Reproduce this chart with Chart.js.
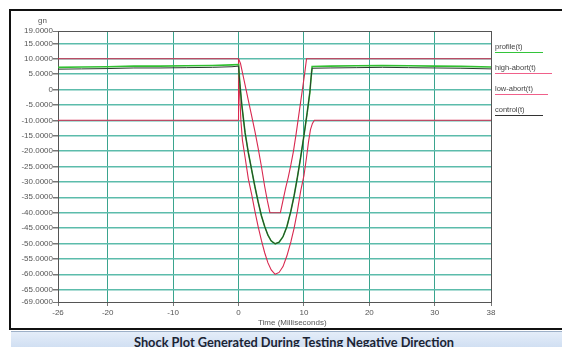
<!DOCTYPE html>
<html>
<head>
<meta charset="utf-8">
<script src="https://cdn.jsdelivr.net/npm/chart.js@4.4.1/dist/chart.umd.min.js"></script>
<style>
    body { margin: 0; width: 562px; height: 347px; overflow: hidden; background: #fff; position: relative; font-family: 'Liberation Sans', Arial, sans-serif; }
    #frame { position: absolute; left: 9px; top: 9px; width: 600px; height: 321px; border: 2px solid #111; box-sizing: border-box; }
    #bar { position: absolute; left: 11px; top: 331px; width: 560px; height: 22px; background: linear-gradient(#e4edf9, #c8d9ef); border-top: 1px solid #9db0c8; }
    #bar span { position: absolute; left: 0; width: 566px; top: 2px; text-align: center; font: bold 12.8px Lato, 'Open Sans', sans-serif; color: #1c2433; }
    #chart { position: absolute; left: 0; top: 0; }
    .txt { position: absolute; font-size: 8px; color: #555; white-space: nowrap; }
    #legend div { position: absolute; left: 495px; font-size: 7.5px; color: #444; white-space: nowrap; }
    #legend i { position: absolute; left: 495px; height: 1px; }
</style>
</head>
<body>
<div id="frame"></div>
<div id="bar"><span>Shock Plot Generated During Testing Negative Direction</span></div>
<canvas id="chart" width="562" height="347"></canvas>
<div class="txt" style="left:38px; top:16px;">gn</div>
<div class="txt" style="left:258px; top:318px;">Time (Milliseconds)</div>
<div id="legend"></div>
<script>
// ---- axis ticks ----
const xTicks = [-27.6, -20, -10, 0, 10, 20, 30, 38.6];
const xTickLabels = ['-26', '-20', '-10', '0', '10', '20', '30', '38'];
const yTicks = [19, 15, 10, 5, 0, -5, -10, -15, -20, -25, -30, -35, -40, -45, -50, -55, -60, -65, -69];

// ---- series (time ms / gn) ----
const profileT = [-27.6, -24, -20, -16, -12, -8, -4, -1, 0, 0.2, 0.5, 1, 1.5, 2, 2.5, 3, 3.5, 4, 4.5, 5,
    5.6, 6.2, 6.8, 7.4, 8, 8.5, 9, 9.5, 10, 10.5, 10.9, 11.1, 11.25, 14, 18, 22, 26, 30, 34, 38.6];
const profileV = [7.2, 7.3, 7.4, 7.6, 7.6, 7.7, 7.8, 8.0, 8.1, 2, -5, -14, -20.5, -26, -31.5, -36.5, -41, -44.5, -47.3, -49.2,
    -50.1, -49.6, -47.8, -44.5, -39.5, -34.5, -28.5, -22, -15, -7.5, -1, 4, 7.5, 7.6, 7.7, 7.8, 7.7, 7.6, 7.5, 7.3];
const controlT = [-27.6, -24, -20, -16, -12, -8, -4, -1, 0, 0.2, 0.5, 1, 1.5, 2, 2.5, 3, 3.5, 4, 4.5, 5,
    5.6, 6.2, 6.8, 7.4, 8, 8.5, 9, 9.5, 10, 10.5, 10.9, 11.1, 11.25, 14, 18, 22, 26, 30, 34, 38.6];
const controlV = [6.6, 6.7, 6.8, 7.0, 7.0, 7.1, 7.2, 7.4, 7.6, 2, -5, -14, -20.5, -26, -31.5, -36.5, -41, -44.5, -47.3, -49.2,
    -50.1, -49.6, -47.8, -44.5, -39.5, -34.5, -28.5, -22, -15, -7.5, -1, 4, 6.9, 7.0, 7.1, 7.2, 7.1, 7.0, 6.9, 6.7];
const highT = [-27.6, 0, 0.3, 1, 1.5, 2, 2.5, 3, 3.5, 4, 4.4, 4.8, 6.4, 6.8, 7.2, 7.6, 8, 8.4, 8.8, 9.2, 9.7, 10.1, 10.4, 38.6];
const highV = [10, 10, 8.5, 1.5, -3.5, -8.5, -13.5, -19, -25, -31.5, -36, -40, -40, -36, -32, -28.5, -24.5, -20, -14.5, -8.5, -1, 5, 10, 10];
const lowT = [-27.6, 0, 0, 0.15, 0.36, 0.6, 1, 1.5, 2, 2.5, 3, 3.5, 4, 4.5, 5, 5.6, 6.2, 6.8, 7.4, 8, 8.5, 9, 9.5, 10,
    10.4, 10.7, 11, 11.3, 11.6, 38.6];
const lowV = [-10, -10, 10, 0, -10, -16.5, -22, -29, -34, -39.5, -44.5, -49, -53, -56.3, -58.6, -60, -59.4, -57.5, -54, -49.5,
    -45, -39.5, -33, -28, -22, -17, -13, -11, -10, -10];

const legendNames = ['profile(t)', 'high-abort(t)', 'low-abort(t)', 'control(t)'];
const legendColors = ['#33c43a', '#f0608a', '#f0608a', '#333'];

function pts(t, v) { return t.map((x, i) => ({ x: x, y: v[i] })); }

// legend on the right, text with a coloured rule under it
(function() {
    const tops = [42, 63, 84, 105];
    const lens = [48, 57, 53, 48];
    const box = document.getElementById('legend');
    legendNames.forEach((n, i) => {
        const d = document.createElement('div');
        d.textContent = n;
        d.style.top = tops[i] + 'px';
        box.appendChild(d);
        const r = document.createElement('i');
        r.style.top = (tops[i] + 10) + 'px';
        r.style.width = lens[i] + 'px';
        r.style.background = legendColors[i];
        box.appendChild(r);
    });
})();

Chart.defaults.font.family = "'Liberation Sans', Arial, sans-serif";

const GRID_H = '#5cbcab';
const GRID_V = '#3aa48e';
const EDGE = '#555';
const ABORT = '#d8284f';

new Chart(document.getElementById('chart'), {
    type: 'line',
    data: {
        datasets: [
            { label: 'control(t)', data: pts(controlT, controlV), borderColor: '#2c3a30', borderWidth: 1, order: 0 },
            { label: 'profile(t)', data: pts(profileT, profileV), borderColor: '#30c030', borderWidth: 1.6, order: 1 },
            { label: 'high-abort(t)', data: pts(highT, highV), borderColor: ABORT, borderWidth: 1.1, order: 2 },
            { label: 'low-abort(t)', data: pts(lowT, lowV), borderColor: ABORT, borderWidth: 1.1, order: 3 }
        ]
    },
    options: {
        responsive: false,
        animation: false,
        layout: { padding: { left: 0, top: 31, right: 71, bottom: 25 } },
        elements: { point: { radius: 0 }, line: { tension: 0 } },
        plugins: { legend: { display: false }, tooltip: { enabled: false } },
        scales: {
            x: {
                type: 'linear',
                min: xTicks[0],
                max: xTicks[xTicks.length - 1],
                afterBuildTicks: s => { s.ticks = xTicks.map(v => ({ value: v })); },
                afterFit: s => { s.height = 20; },
                ticks: {
                    autoSkip: false, maxRotation: 0, padding: 2,
                    color: '#555', font: { size: 8 },
                    callback: (v, i) => xTickLabels[i]
                },
                grid: {
                    color: c => (c.index === 0 || c.index === xTicks.length - 1) ? EDGE : GRID_V,
                    lineWidth: 1,
                    tickLength: 4,
                    tickColor: '#777'
                },
                border: { display: true, color: EDGE, width: 1 }
            },
            y: {
                min: yTicks[yTicks.length - 1],
                max: yTicks[0],
                afterBuildTicks: s => { s.ticks = yTicks.map(v => ({ value: v })); },
                afterFit: s => { s.width = 58; },
                ticks: {
                    autoSkip: false, padding: 0,
                    color: '#555', font: { size: 8 },
                    callback: v => v === 0 ? '0' : v.toFixed(4)
                },
                grid: {
                    color: c => (c.index === 0 || c.index === yTicks.length - 1) ? EDGE : GRID_H,
                    lineWidth: c => (c.index === 0 || c.index === yTicks.length - 1) ? 1 : 1.5,
                    tickLength: 5,
                    tickColor: '#777'
                },
                border: { display: true, color: EDGE, width: 1 }
            }
        }
    }
});
</script>
</body>
</html>
